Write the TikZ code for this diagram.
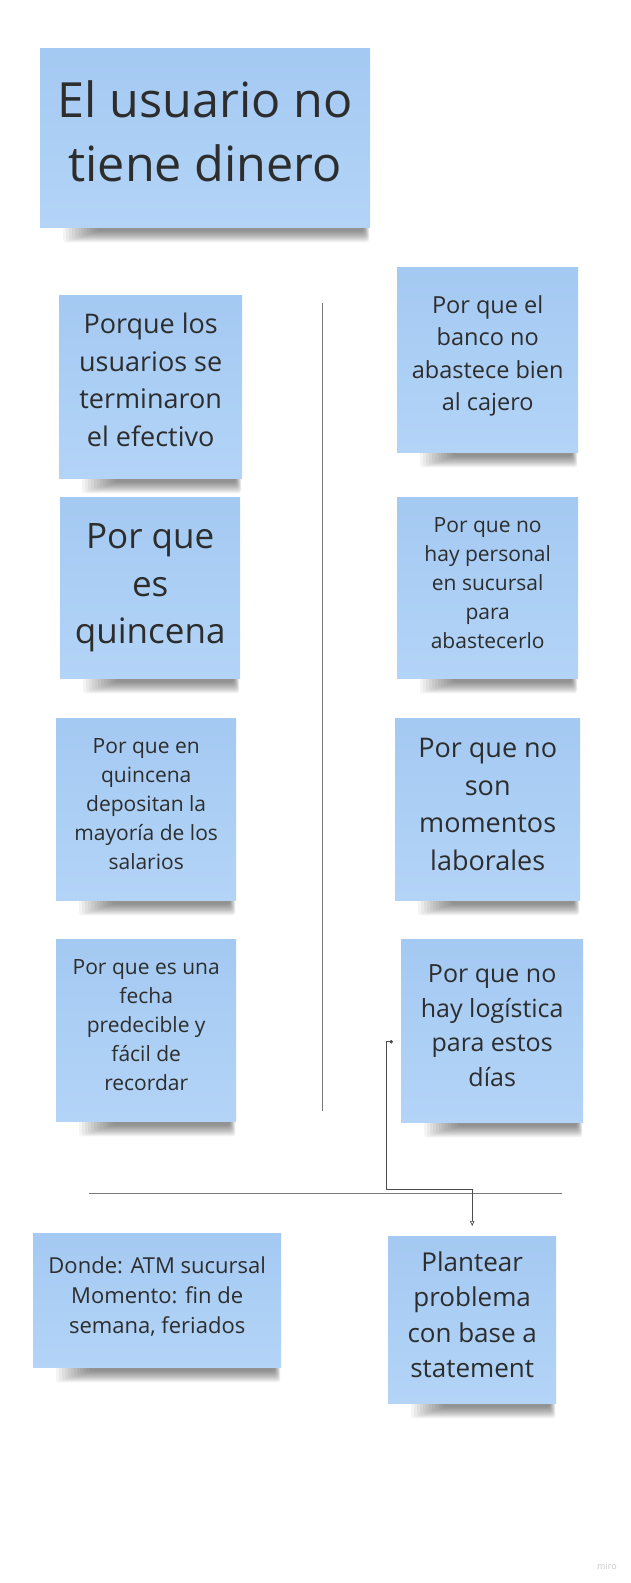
\documentclass[tikz,border=0pt]{standalone}
\usepackage{fontspec}
\setmainfont{Open Sans}
\usetikzlibrary{arrows.meta,backgrounds}
\definecolor{NoteTop}{HTML}{A4C9F2}
\definecolor{NoteBot}{HTML}{B3D4F7}
\definecolor{Ink}{HTML}{2D2D2D}
\definecolor{Rule}{HTML}{7A7A7A}
\newcommand{\fs}[2]{\fontsize{#1}{#2}\selectfont}

\begin{document}
\begin{tikzpicture}[x=1pt,y=-1pt,
  note/.style={top color=NoteTop,bottom color=NoteBot,draw=none,inner sep=0pt,align=center,text=Ink,anchor=north west,text depth=10pt},
  divider/.style={draw=Rule,line width=0.8pt},
  link/.style={draw=black!70,line width=0.7pt,{Circle[length=3.5pt]}-{Triangle[open,length=5pt,width=4.5pt]},shorten >=10pt},
  noteshadow/.style={fill=black,opacity=0.045,rounded corners=3pt}
]
\useasboundingbox (0,0) rectangle (631,1583);
% title and the why chain
\node[note,minimum width=330pt,minimum height=179pt,font=\fs{48.5}{64},text depth=14pt] (title) at (40,48) {El usuario no\\tiene dinero};
\node[note,minimum width=183pt,minimum height=183pt,font=\fs{27}{37.5},text depth=14pt] (why1) at (59,295) {Porque los\\usuarios se\\terminaron\\el efectivo};
\node[note,minimum width=180pt,minimum height=181pt,font=\fs{35}{47.5},text depth=8pt] (quincena) at (60,497) {Por que\\es\\quincena};
\node[note,minimum width=180pt,minimum height=182pt,font=\fs{21}{29}] (deposito) at (56,718) {Por que en\\quincena\\depositan la\\mayoría de los\\salarios};
\node[note,minimum width=180pt,minimum height=182pt,font=\fs{21}{29}] (fecha) at (56,939) {Por que es una\\fecha\\predecible y\\fácil de\\recordar};
\node[note,minimum width=181pt,minimum height=185pt,font=\fs{23.5}{32.5},text depth=13pt] (banco) at (397,267) {Por que el\\banco no\\abastece bien\\al cajero};
\node[note,minimum width=181pt,minimum height=181pt,font=\fs{21}{29}] (personal) at (397,497) {Por que no\\hay personal\\en sucursal\\para\\abastecerlo};
\node[note,minimum width=185pt,minimum height=182pt,font=\fs{27}{37.5}] (laborales) at (395,718) {Por que no\\son\\momentos\\laborales};
\node[note,minimum width=182pt,minimum height=183pt,font=\fs{25}{34.5}] (logistica) at (401,939) {Por que no\\hay logística\\para estos\\días};
% statement
\node[note,minimum width=248pt,minimum height=134pt,font=\fs{22}{30},text depth=11pt] (donde) at (33,1233) {Donde: ATM sucursal\\Momento: fin de\\semana, feriados};
\node[note,minimum width=168pt,minimum height=167pt,font=\fs{26}{35.5}] (plantear) at (388,1236) {Plantear\\problema\\con base a\\statement};
\node[text=black!22,font=\fs{9}{11}] (miro) at (607,1566) {miro};

\coordinate (vtop) at (322,303);
\coordinate (vbot) at (322,1111);
\coordinate (hleft) at (89,1193);
\coordinate (hright) at (562,1193);
\draw[divider] (vtop) -- (vbot);
\draw[divider] (hleft) -- (hright);
\draw[link] ([xshift=-8pt,yshift=-11pt]logistica.west) -- ++(-7,0) |- ([yshift=47pt]plantear.north) -- (plantear.north);

\begin{scope}[on background layer]
\fill[white] (0,0) rectangle (631,1583);
\foreach \n in {title,why1,quincena,deposito,fecha,banco,personal,laborales,logistica,donde,plantear}
  \foreach \k in {1,...,12}
    \fill[noteshadow] ([xshift=20pt+3*\k pt,yshift=2pt]\n.south west) rectangle ([xshift=-0.5pt-0.5*\k pt,yshift=-16pt+\k pt]\n.south east);
\end{scope}
\end{tikzpicture}
\end{document}
